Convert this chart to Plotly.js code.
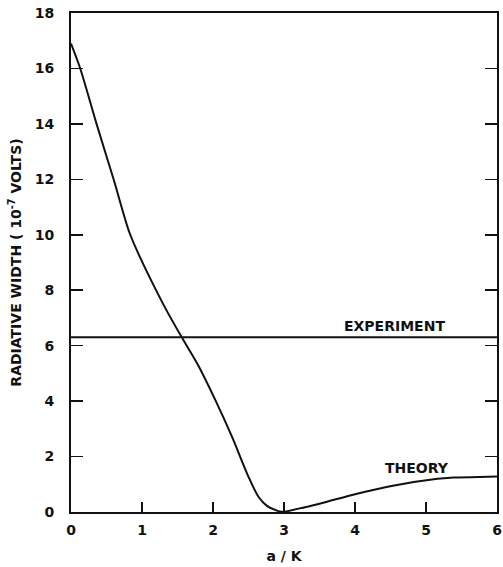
<!DOCTYPE html>
<html>
<head>
<meta charset="utf-8">
<script src="https://cdn.plot.ly/plotly-3.0.1.min.js"></script>
<style>html,body{margin:0;padding:0;background:#fff;}#chart{width:503px;height:567px;}</style>
</head>
<body>
<div id="chart"></div>
<script>
// Theory curve, descending branch (to the zero at a/K = 3) and rising branch
const theoryDownX = [0, 0.13, 0.36, 0.6, 0.82, 0.97, 1.12, 1.34, 1.56, 1.8, 2.04, 2.27, 2.5, 2.64, 2.76, 2.9, 3.0];
const theoryDownY = [16.9, 16.0, 14.0, 12.0, 10.1, 9.2, 8.4, 7.3, 6.3, 5.25, 4.0, 2.7, 1.27, 0.55, 0.22, 0.05, 0];
const theoryUpX = [3.0, 3.5, 4.0, 4.46, 4.93, 5.39, 5.87, 6.0];
const theoryUpY = [0, 0.3, 0.64, 0.91, 1.12, 1.24, 1.27, 1.28];
const experimentX = [0, 6];
const experimentY = [6.3, 6.3];
const xTicks = [0, 1, 2, 3, 4, 5, 6];
const yTicks = [0, 2, 4, 6, 8, 10, 12, 14, 16, 18];

const font = {family: 'DejaVu Sans, sans-serif', size: 14, color: '#111', weight: 'bold'};

const lineStyle = {color: '#111', width: 2, shape: 'spline', smoothing: 0.8};
const traces = [
  {x: theoryDownX, y: theoryDownY, mode: 'lines', line: lineStyle, hoverinfo: 'none'},
  {x: theoryUpX, y: theoryUpY, mode: 'lines', line: lineStyle, hoverinfo: 'none'},
  {x: experimentX, y: experimentY, mode: 'lines', line: {color: '#111', width: 2}, hoverinfo: 'none'}
];

const layout = {
  width: 503, height: 567,
  margin: {l: 71, r: 6, t: 13, b: 55},
  paper_bgcolor: '#fff', plot_bgcolor: '#fff',
  showlegend: false,
  font: font,
  xaxis: {
    range: [0, 6], tickvals: xTicks, ticktext: xTicks.map(String),
    ticks: 'inside', ticklen: 10, tickwidth: 1.5, tickcolor: '#111',
    showline: true, linecolor: '#111', linewidth: 2, mirror: true,
    showgrid: false, zeroline: false, ticklabelstandoff: 4,
    ticklabeloverflow: 'allow',
    title: {text: 'a / K', font: font, standoff: 14}
  },
  yaxis: {
    range: [0, 18], tickvals: yTicks, ticktext: yTicks.map(String),
    ticks: 'inside', ticklen: 12, tickwidth: 1.5, tickcolor: '#111',
    showline: true, linecolor: '#111', linewidth: 2, mirror: 'ticks',
    showgrid: false, zeroline: false, ticklabelstandoff: 12,
    title: {text: 'RADIATIVE WIDTH ( 10<sup>-7</sup> VOLTS)', font: font, standoff: 10}
  },
  annotations: [
    {x: 4.55, y: 6.3, xref: 'x', yref: 'y', text: 'EXPERIMENT', showarrow: false, yanchor: 'bottom', yshift: 1, font: font},
    {x: 4.88, y: 1.6, xref: 'x', yref: 'y', text: 'THEORY', showarrow: false, yanchor: 'middle', font: font}
  ]
};

Plotly.newPlot('chart', traces, layout, {displayModeBar: false, staticPlot: true});
</script>
</body>
</html>
